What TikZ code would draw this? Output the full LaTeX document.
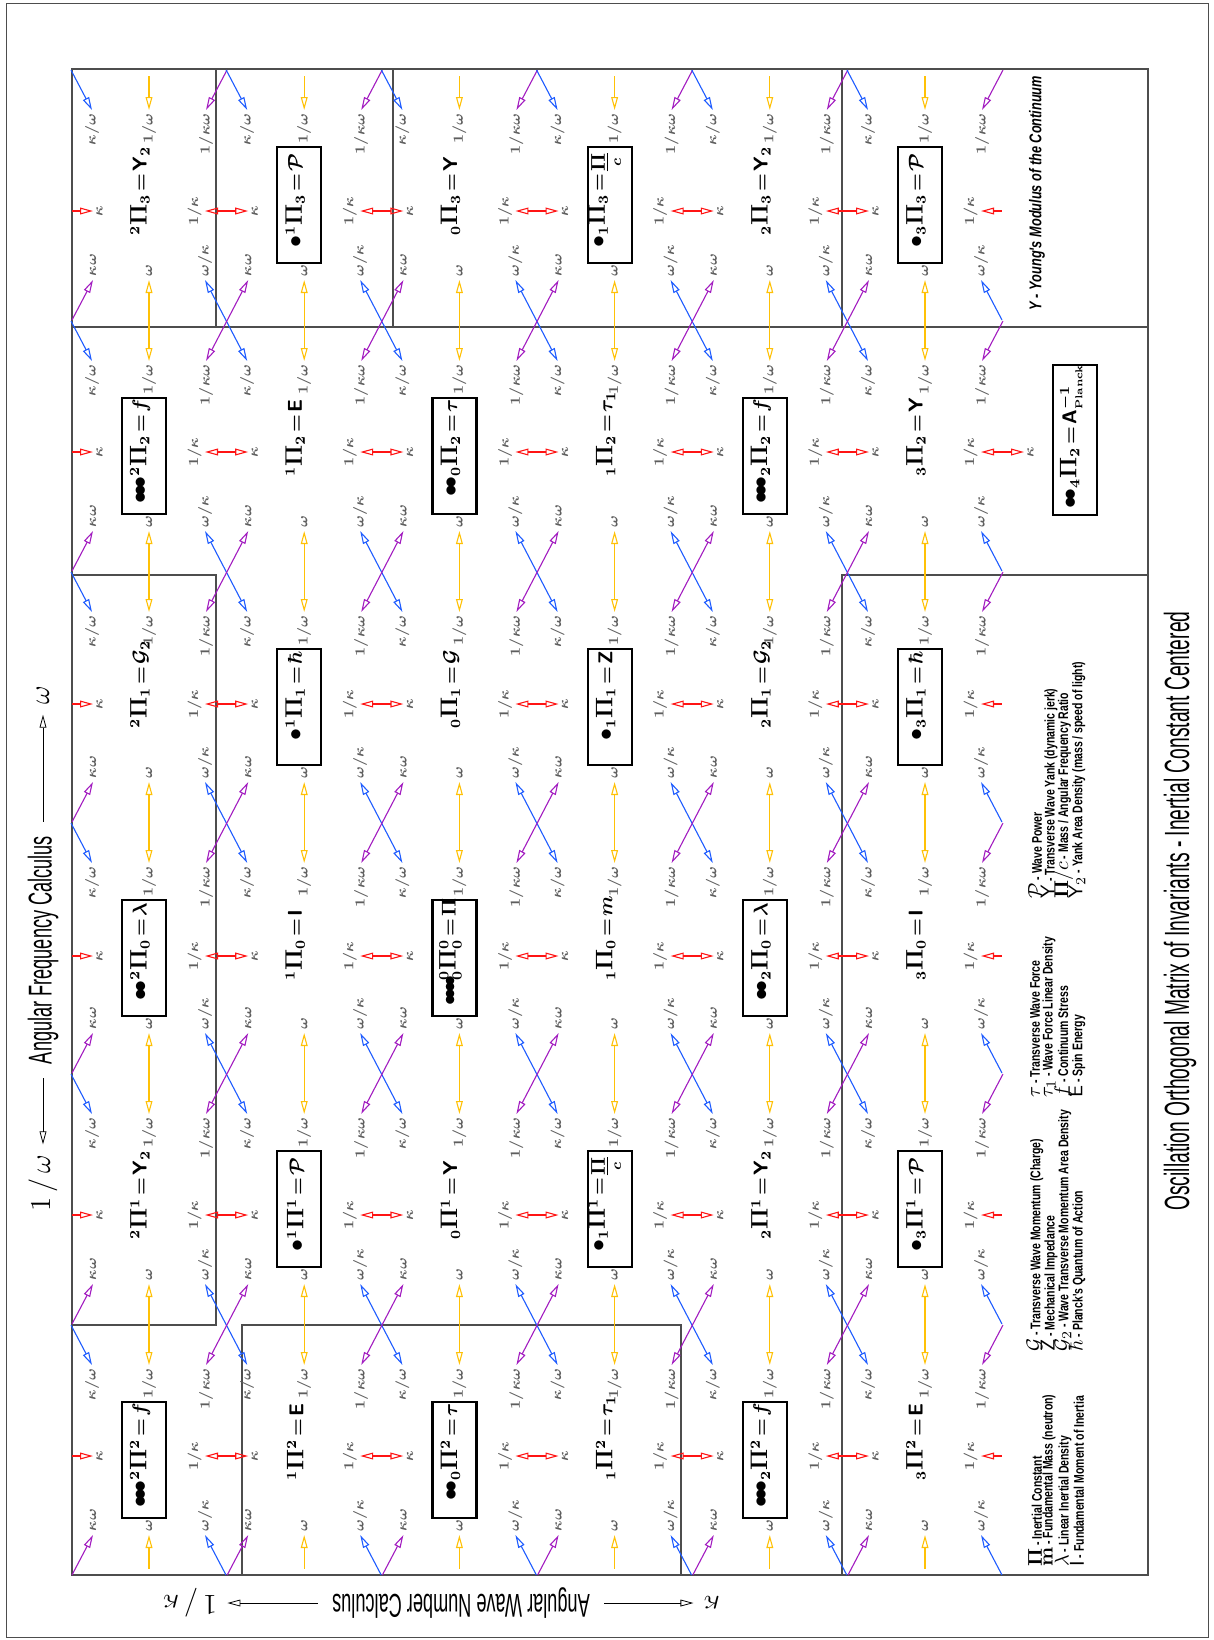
\documentclass[tikz,border=0pt]{standalone}
\usepackage[no-math]{fontspec}
\usepackage{amsmath}
\usetikzlibrary{arrows.meta,calc}

\newfontfamily\cadfont[FakeStretch=0.75]{Liberation Sans}
\newfontfamily\cadnarrow[FakeStretch=0.55]{Liberation Sans}

\definecolor{kred}{HTML}{FF1414}
\definecolor{wgold}{HTML}{FFC107}
\definecolor{dblue}{HTML}{1E5CFF}
\definecolor{dpurple}{HTML}{A21CC0}
\definecolor{lblgray}{HTML}{5E5E5E}
\definecolor{linegray}{HTML}{4D4D4D}

% 赤い矢印の行（画像の縦方向）
\def\rowy{{211,452,704,956,1215,1456}}
\newcommand{\lsym}[1]{{\fontsize{10}{10}\selectfont#1}}
\newcommand{\bpi}{{\fontsize{12}{12}\selectfont$\mathbf{\Pi}$}}
\newcommand{\bul}{\mbox{\fontsize{12}{12}\selectfont\unboldmath$\bullet$}\kern-2.1pt}
\newcommand{\bult}{\mbox{\fontsize{11}{11}\selectfont\unboldmath$\bullet$}\kern-2.4pt}
\newcommand{\eq}{\mskip2mu{=}\mskip2mu}

\tikzset{
  lbl/.style={rotate=90, inner sep=1.5pt, text=lblgray, font=\fontsize{7}{7}\selectfont\boldmath},
  form/.style={rotate=90, inner sep=0pt, font=\fontsize{10}{10}\selectfont\boldmath},
  fbox/.style={line width=1.1pt},
  region/.style={linegray, line width=0.6pt},
  karr/.style={kred, line width=0.55pt},
  warr/.style={wgold, line width=0.55pt},
  barr/.style={dblue, line width=0.55pt},
  parr/.style={dpurple, line width=0.55pt},
  leg/.style={rotate=90, anchor=west, inner sep=0pt, font=\cadfont\bfseries\fontsize{7}{7}\selectfont},
  axis/.style={inner sep=1pt, font=\cadnarrow\fontsize{16.5}{16.5}\selectfont},
  axismath/.style={inner sep=1pt, font=\fontsize{14.4}{14.4}\selectfont},
}

\begin{document}
\begin{tikzpicture}[x=0.5pt, y=-0.5pt, >={Triangle[open, length=6.5pt, width=3.4pt]}]

    \useasboundingbox (0,0) rectangle (1214,1640);

    % 外枠
    \draw[linegray, line width=0.4pt] (6,3) rectangle (1208,1637);
    \draw[linegray, line width=0.8pt] (72,69) rectangle (1148,1575);

    % 区画の線
    \draw[region] (72,327) -- (1148,327);
    \draw[region] (216,69) -- (216,327);
    \draw[region] (393,69) -- (393,327);
    \draw[region] (842,69) -- (842,327);
    \draw[region] (72,575) -- (216,575) -- (216,1325) -- (72,1325);
    \draw[region] (842,1575) -- (842,575) -- (1148,575);
    \draw[region] (242,1575) -- (242,1325) -- (681,1325) -- (681,1575);

    % 各セルのラベル（L はセル上端）
    \foreach \c in {0,...,5}{
      \foreach \r in {0,...,5}{
        \pgfmathsetmacro\X{149+155.2*\c}
        \pgfmathsetmacro\K{\rowy[\r]}
        \pgfmathsetmacro\L{113+251*\r}
        \node[lbl, anchor=east] (tl-\c-\r) at (\X-57,\L-3) {$\kappa/\omega$};
        \node[lbl, anchor=east] (tc-\c-\r) at (\X,\L-3) {$1/\omega$};
        \node[lbl, anchor=east] (tr-\c-\r) at (\X+57,\L-3) {$1/\kappa\omega$};
        \node[lbl, anchor=north] (ml-\c-\r) at (\X-56,\K) {$\kappa$};
        \node[lbl, anchor=south] (mr-\c-\r) at (\X+56,\K) {$1/\kappa$};
        \node[lbl, anchor=west] (bl-\c-\r) at (\X-56,\L+167) {$\kappa\omega$};
        \node[lbl, anchor=west] (bc-\c-\r) at (\X,\L+167) {$\omega$};
        \node[lbl, anchor=west] (br-\c-\r) at (\X+56,\L+167) {$\omega/\kappa$};
      }
    }

    % 不変量（\bx=1 なら枠つき）
    \foreach \c/\r/\pre/\post/\bx in {
      0/0/{{}^{2}}/{{}_{3}\eq\mathsf{Y}_{2}}/0,
      0/1/{\bul\bul\bul\,{}^{2}}/{{}_{2}\eq f}/1,
      0/2/{{}^{2}}/{{}_{1}\eq\mathcal{G}_{2}}/0,
      0/3/{\bul\bul\,{}^{2}}/{{}_{0}\eq\lambda}/1,
      0/4/{{}^{2}}/{{}^{1}\eq\mathsf{Y}_{2}}/0,
      0/5/{\bul\bul\bul\,{}^{2}}/{{}^{2}\eq f}/1,
      1/0/{\bul\,{}^{1}}/{{}_{3}\eq\mathcal{P}}/1,
      1/1/{{}^{1}}/{{}_{2}\eq\mathsf{E}}/0,
      1/2/{\bul\,{}^{1}}/{{}_{1}\eq\hbar}/1,
      1/3/{{}^{1}}/{{}_{0}\eq\mathsf{I}}/0,
      1/4/{\bul\,{}^{1}}/{{}^{1}\eq\mathcal{P}}/1,
      1/5/{{}^{1}}/{{}^{2}\eq\mathsf{E}}/0,
      2/0/{{}_{0}}/{{}_{3}\eq\mathsf{Y}}/0,
      2/1/{\bul\bul\,{}_{0}}/{{}_{2}\eq\tau}/1,
      2/2/{{}_{0}}/{{}_{1}\eq\mathcal{G}}/0,
      2/3/{\bult\bult\bult\bult{}^{0}_{0}}/{{}^{0}_{0}\eq\mathbf{\Pi}}/1,
      2/4/{{}_{0}}/{{}^{1}\eq\mathsf{Y}}/0,
      2/5/{\bul\bul\,{}_{0}}/{{}^{2}\eq\tau}/1,
      3/0/{\bul\,{}_{1}}/{{}_{3}\eq\underset{c}{\underline{\mathbf{\Pi}}}}/1,
      3/1/{{}_{1}}/{{}_{2}\eq\tau_{1}}/0,
      3/2/{\bul\,{}_{1}}/{{}_{1}\eq\mathsf{Z}}/1,
      3/3/{{}_{1}}/{{}_{0}\eq m}/0,
      3/4/{\bul\,{}_{1}}/{{}^{1}\eq\underset{c}{\underline{\mathbf{\Pi}}}}/1,
      3/5/{{}_{1}}/{{}^{2}\eq\tau_{1}}/0,
      4/0/{{}_{2}}/{{}_{3}\eq\mathsf{Y}_{2}}/0,
      4/1/{\bul\bul\bul\,{}_{2}}/{{}_{2}\eq f}/1,
      4/2/{{}_{2}}/{{}_{1}\eq\mathcal{G}_{2}}/0,
      4/3/{\bul\bul\,{}_{2}}/{{}_{0}\eq\lambda}/1,
      4/4/{{}_{2}}/{{}^{1}\eq\mathsf{Y}_{2}}/0,
      4/5/{\bul\bul\bul\,{}_{2}}/{{}^{2}\eq f}/1,
      5/0/{\bul\,{}_{3}}/{{}_{3}\eq\mathcal{P}}/1,
      5/1/{{}_{3}}/{{}_{2}\eq\mathsf{Y}}/0,
      5/2/{\bul\,{}_{3}}/{{}_{1}\eq\hbar}/1,
      5/3/{{}_{3}}/{{}_{0}\eq\mathsf{I}}/0,
      5/4/{\bul\,{}_{3}}/{{}^{1}\eq\mathcal{P}}/1,
      5/5/{{}_{3}}/{{}^{2}\eq\mathsf{E}}/0}{
      \pgfmathsetmacro\X{149+155.2*\c}
      \pgfmathsetmacro\K{\rowy[\r]}
      \pgfmathsetmacro\L{113+251*\r}
      \ifnum\bx=1 \draw[fbox] (\X-27,\L+34) rectangle (\X+17,\L+150); \fi
      \node[form] (f-\c-\r) at (\X-9,\K+4) {\llap{$\pre$}\bpi\rlap{$\post$}};
    }

    % 右端の A_Planck
    \draw[fbox] (1053,365) rectangle (1097,515);
    \node[form] (f-6-1) at (1071,468) {\llap{$\bul\bul\,{}_{4}$}\bpi\rlap{${}_{2}\eq\mathsf{A}^{-1}_{\scriptscriptstyle\mathbf{Planck}}$}};
    \node[lbl, anchor=north] (ml-6-1) at (1024,452) {$\kappa$};

    % 隣どうしを結ぶ矢印
    \foreach \r in {0,...,5}{
      \foreach \c in {0,...,4}{
        \pgfmathtruncatemacro\n{\c+1}
        \draw[karr, <->] (mr-\c-\r.south) -- (ml-\n-\r.north);
      }
    }
    \draw[karr, <->] (mr-5-1.south) -- (ml-6-1.north);
    \foreach \c in {0,...,5}{
      \foreach \r in {0,...,4}{
        \pgfmathtruncatemacro\s{\r+1}
        \draw[warr, <->] (bc-\c-\r.west) -- (tc-\c-\s.east);
      }
    }
    \foreach \c in {0,...,4}{
      \foreach \r in {0,...,4}{
        \pgfmathtruncatemacro\n{\c+1}
        \pgfmathtruncatemacro\s{\r+1}
        \draw[barr, <->] (br-\c-\r.west) -- (tl-\n-\s.east);
        \draw[parr, <->] (bl-\n-\r.west) -- (tr-\c-\s.east);
      }
    }

    % 端の矢印
    \foreach \r in {0,...,5}{
      \draw[karr, <-] (ml-0-\r.north) -- ++(-21,0);
      \draw[parr, <-] (bl-0-\r.west) -- ++(-21,40);
      \draw[barr, <-] (br-5-\r.west) -- ++(21,40);
    }
    \foreach \r in {0,2,3,4,5}{
      \draw[karr, <-] (mr-5-\r.south) -- ++(21,0);
    }
    \foreach \r in {1,...,5}{
      \draw[barr, <-] (tl-0-\r.east) -- ++(-21,-40);
      \draw[parr, <-] (tr-5-\r.east) -- ++(21,-40);
    }
    \foreach \c in {0,...,5}{
      \draw[warr, <-] (tc-\c-0.east) -- ++(0,-34);
      \draw[warr, <-] (bc-\c-5.west) -- ++(0,34);
      \draw[barr, <-] (tl-\c-0.east) -- ++(-21,-40);
      \draw[parr, <-] (tr-\c-0.east) -- ++(21,-40);
    }
    \foreach \c in {0,...,4}{
      \draw[barr, <-] (br-\c-5.west) -- ++(21,40);
    }
    \foreach \c in {1,...,5}{
      \draw[parr, <-] (bl-\c-5.west) -- ++(-21,40);
    }

    % 角周波数の軸
    \node[axis, rotate=90] (af) at (43,950) {Angular Frequency Calculus};
    \node[axismath, rotate=90] (af-lo) at (43,1183) {$1\,/\,\omega$};
    \node[axismath, rotate=90] (af-hi) at (43,695) {$\omega$};
    \draw[->, shorten <=6pt, shorten >=4pt] (af.west) -- (af-lo.east);
    \draw[->, shorten <=6pt, shorten >=4pt] (af.east) -- (af-hi.west);

    % 角波数の軸
    \node[axis, rotate=180] (awn) at (461,1603) {Angular Wave Number Calculus};
    \node[axismath, rotate=180] (awn-ik) at (190,1603) {$1\,/\,\kappa$};
    \node[axismath, rotate=180] (awn-k) at (712,1603) {$\kappa$};
    \draw[->, shorten <=6pt, shorten >=4pt] (awn.east) -- (awn-ik.west);
    \draw[->, shorten <=6pt, shorten >=4pt] (awn.west) -- (awn-k.east);

    % 凡例
    \node[leg] (leg-1) at (1035,1567) {\lsym{$\mathbf{\Pi}$} - Inertial Constant};
    \node[leg] (leg-2) at (1049,1567) {\lsym{$\mathbf{m}$} - Fundamental Mass (neutron)};
    \node[leg] (leg-3) at (1063,1567) {\lsym{$\lambda$} - Linear Inertial Density};
    \node[leg] (leg-4) at (1077,1567) {\lsym{$\mathsf{I}$} - Fundamental Moment of Inertia};
    \node[leg] (leg-5) at (1035,1352) {\lsym{$\mathcal{G}$} - Transverse Wave Momentum (Charge)};
    \node[leg] (leg-6) at (1049,1352) {\lsym{$\mathsf{Z}$} - Mechanical Impedance};
    \node[leg] (leg-7) at (1063,1352) {\lsym{$\mathcal{G}_2$} - Wave Transverse Momentum Area Density};
    \node[leg] (leg-8) at (1077,1352) {\lsym{$\hbar$} - Planck's Quantum of Action};
    \node[leg] (leg-9) at (1035,1098) {\lsym{$\tau$} - Transverse Wave Force};
    \node[leg] (leg-10) at (1049,1098) {\lsym{$\tau_1$} - Wave Force Linear Density};
    \node[leg] (leg-11) at (1063,1098) {\lsym{$f$} - Continuum Stress};
    \node[leg] (leg-12) at (1077,1098) {\lsym{$\mathsf{E}$} - Spin Energy};
    \node[leg] (leg-13) at (1035,899) {\lsym{$\mathcal{P}$} - Wave Power};
    \node[leg] (leg-14) at (1049,899) {\lsym{$\mathsf{Y}$} - Transverse Wave Yank (dynamic jerk)};
    \node[leg] (leg-15) at (1063,899) {\lsym{$\mathbf{\Pi}/c$} - Mass / Angular Frequency Ratio};
    \node[leg] (leg-16) at (1077,899) {\lsym{$\mathsf{Y}_2$} - Yank Area Density (mass / speed of light)};

    % ヤング率と表題
    \node[rotate=90, inner sep=0pt, font=\cadfont\bfseries\itshape\fontsize{8.5}{8.5}\selectfont] (young) at (1037,193) {Y - Young's Modulus of the Continuum};
    \node[rotate=90, inner sep=0pt, font=\cadnarrow\fontsize{17.5}{17.5}\selectfont] (title) at (1180,911) {Oscillation Orthogonal Matrix of Invariants - Inertial Constant Centered};

\end{tikzpicture}
\end{document}
